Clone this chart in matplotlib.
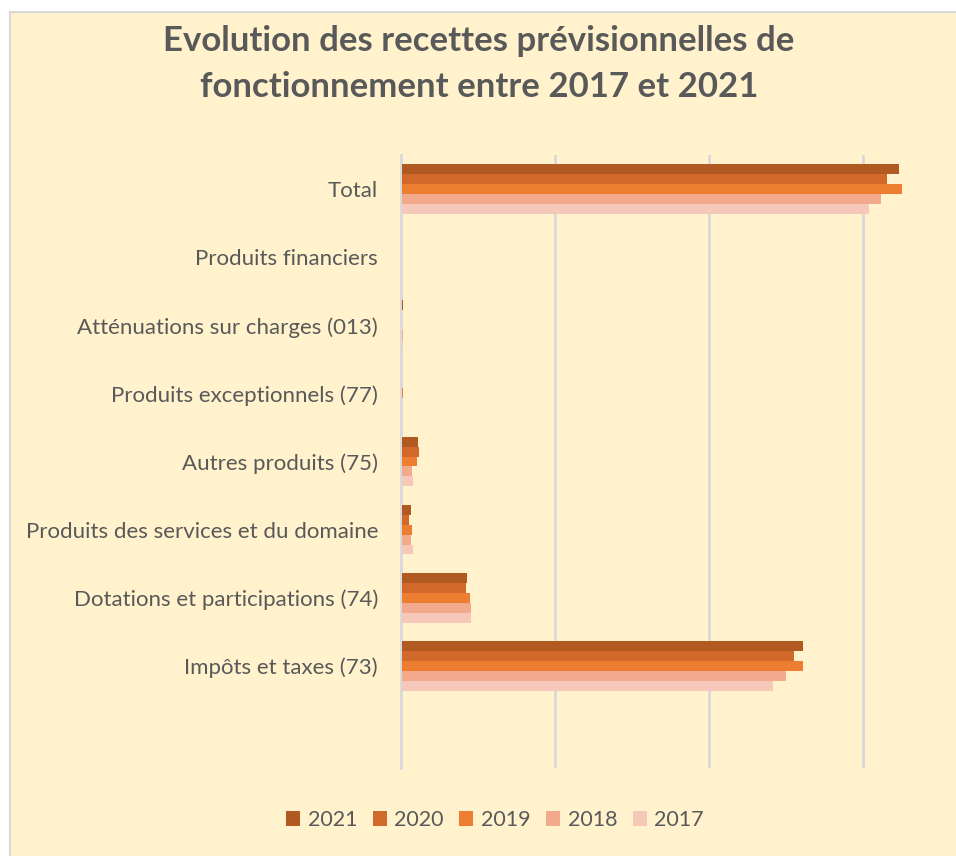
import matplotlib
matplotlib.use("Agg")
import matplotlib.pyplot as plt
from matplotlib.patches import Rectangle, Patch
from matplotlib.lines import Line2D
import numpy as np

plt.rcParams['font.family'] = ['Lato', 'DejaVu Sans']

categories = ["Impôts et taxes (73)", "Dotations et participations (74)",
              "Produits des services et du domaine", "Autres produits (75)",
              "Produits exceptionnels (77)", "Atténuations sur charges (013)",
              "Produits financiers", "Total"]
years = ["2021", "2020", "2019", "2018", "2017"]
# values in units of one gridline step (unlabelled axis)
v2021 = [2.600, 0.422, 0.060, 0.104, 0.0, 0.008, 0.0, 3.226]
v2020 = [2.545, 0.416, 0.044, 0.112, 0.0, 0.0, 0.0, 3.150]
v2019 = [2.600, 0.440, 0.066, 0.096, 0.008, 0.0, 0.0, 3.245]
v2018 = [2.495, 0.448, 0.054, 0.065, 0.0, 0.008, 0.0, 3.110]
v2017 = [2.405, 0.448, 0.070, 0.072, 0.0, 0.008, 0.0, 3.034]
series = [v2021, v2020, v2019, v2018, v2017]
colors = ["#B05A22", "#D0692A", "#ED7D31", "#F2A98C", "#F6C8BA"]

BG = "#FFF2CC"
TXT = "#595959"

fig = plt.figure(figsize=(9.56, 8.56), dpi=100)
fig.patch.set_facecolor("white")
# chart area background with top/left border
fig.add_artist(Rectangle((10/956, 0), 1, 1 - 12/856, transform=fig.transFigure,
                         facecolor=BG, edgecolor="none", zorder=-10))
fig.add_artist(Line2D([9.5/956, 9.5/956], [0, 1 - 11.5/856], transform=fig.transFigure,
                      color="#D9D9D9", lw=1.5, zorder=-5))
fig.add_artist(Line2D([9.5/956, 1], [1 - 11.5/856, 1 - 11.5/856], transform=fig.transFigure,
                      color="#D9D9D9", lw=1.5, zorder=-5))

ax = fig.add_axes([401/956, 1 - 768/856, (940 - 401)/956, (768 - 155)/856])
ax.set_facecolor("none")

ypos = np.arange(1, len(categories) + 1)
h = 0.146
for i, (vals, col, yr) in enumerate(zip(series, colors, years)):
    offs = (2 - i) * h
    ax.barh(ypos + offs, vals, height=h, color=col, label=yr, zorder=3,
            left=0.008)

ax.set_xlim(0, 3.5)
ax.set_ylim(-0.5, 8.5)
ax.set_xticks([1, 2, 3])
ax.xaxis.grid(True, color="#D9D9D9", lw=2)
ax.tick_params(axis="x", length=0, labelbottom=False)
ax.set_yticks(ypos)
ax.set_yticklabels(categories, fontsize=16, color=TXT)
ax.tick_params(axis="y", length=0, pad=16.5)
for s in ["top", "right", "bottom"]:
    ax.spines[s].set_visible(False)
ax.spines["left"].set_color("#D9D9D9")
ax.spines["left"].set_linewidth(2)
ax.set_axisbelow(True)

fig.text(479/956, 1 - 64/856,
         "Evolution des recettes prévisionnelles de\nfonctionnement entre 2017 et 2021",
         ha="center", va="center", fontsize=25, fontweight="bold", color=TXT,
         linespacing=1.55)

handles = [Patch(facecolor=c, edgecolor="none") for c in colors]
fig.legend(handles, years, loc="center", bbox_to_anchor=(495/956, 1 - 820/856),
           ncol=5, frameon=False, fontsize=15.5, labelcolor=TXT,
           handlelength=0.65, handleheight=0.65, handletextpad=0.35, columnspacing=0.72)

fig.savefig("out.png", dpi=100, facecolor=fig.get_facecolor())
